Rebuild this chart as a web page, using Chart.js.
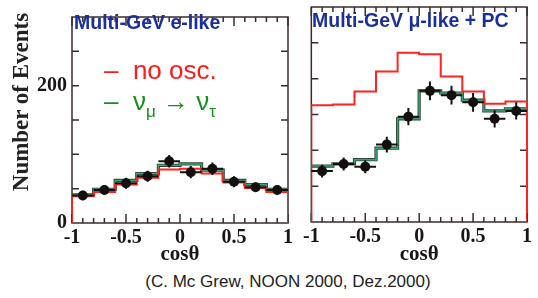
<!DOCTYPE html>
<html>
<head>
<meta charset="utf-8">
<script src="https://cdn.jsdelivr.net/npm/chart.js@4.4.0/dist/chart.umd.min.js"></script>
<style>
  body { margin: 0; background: #fff; }
  #wrap { position: relative; width: 538px; height: 298px; overflow: hidden; }
  canvas { position: absolute; top: 0; }
  .lbl { position: absolute; white-space: nowrap; }
  .panelTitle { font: bold 19.5px "Liberation Sans", Arial, sans-serif; color: #1b2f9c; line-height: 20px; }
  .leg { font: 26px "Liberation Sans", Arial, sans-serif; line-height: 26px; }
  .leg sub { font-size: 17px; vertical-align: -7px; }
</style>
</head>
<body>
<div id="wrap">
  <canvas id="eLike" width="300" height="270" style="left:0"></canvas>
  <canvas id="muLike" width="238" height="270" style="left:300px"></canvas>

  <div class="lbl panelTitle" style="left:74px; top:12px">Multi-GeV e-like</div>
  <div class="lbl panelTitle" style="left:312px; top:10px">Multi-GeV μ-like + PC</div>

  <div class="lbl leg" style="left:104px; top:57px; color:#ff1a1a">–&nbsp;&nbsp;no osc.</div>
  <div class="lbl leg" style="left:104px; top:88px; color:#14901e">–&nbsp;&nbsp;ν<sub>μ</sub> → ν<sub>τ</sub></div>

  <div class="lbl" style="left:-77px; top:87px; width:200px; height:30px; line-height:30px; text-align:center;
       transform: rotate(-90deg); font: bold 23px 'Liberation Serif', 'Times New Roman', serif; color:#222">Number of Events</div>

  <div class="lbl" style="left:0; width:576px; top:272px; text-align:center; font: 17px 'Liberation Sans', Arial, sans-serif; color:#222">(C. Mc Grew, NOON 2000, Dez.2000)</div>
</div>

<script>
// bin centres in cos(theta), 10 bins of width 0.2
const cosBins = [-0.9, -0.7, -0.5, -0.3, -0.1, 0.1, 0.3, 0.5, 0.7, 0.9];
const binWidth = 0.2;

// Multi-GeV e-like
const eNoOsc = [39, 45, 56, 66, 78, 79, 72, 59, 51, 45];
const eOsc   = [41, 49, 62, 72, 84, 86, 77, 62, 56, 49];
const eData  = [40, 48, 58, 68, 90, 74, 79, 60, 52, 48];
const eErr   = [7, 7, 8, 8, 9, 9, 9, 8, 7, 7];

// Multi-GeV mu-like + PC
const muNoOsc = [163, 164, 182, 210, 236, 234, 203, 182, 165, 168];
const muOsc   = [78, 81, 87, 103, 144, 183, 180, 170, 155, 158];
const muData  = [71, 81, 77, 108, 147, 183, 177, 167, 144, 155];
const muErr   = [9, 9, 9, 11, 12, 13, 13, 13, 12, 12];

const xTicks = [-1, -0.5, 0, 0.5, 1];
const yLabelTicks = [0, 200];

const serif = "'Liberation Serif', 'Times New Roman', serif";

function histPoints(values, closed) {
  const half = binWidth / 2;
  const last = cosBins.length - 1;
  const pts = [];
  if (closed) pts.push({x: cosBins[0] - half, y: 0});
  values.forEach((v, i) => pts.push({x: cosBins[i] - half, y: v}));
  pts.push({x: cosBins[last] + half, y: values[last]});
  if (closed) pts.push({x: cosBins[last] + half, y: 0});
  return pts;
}

// box + inward tick marks on all four sides
const framePlugin = {
  id: 'frame',
  beforeDatasetsDraw(chart) {
    const {ctx, chartArea: a, scales: {x, y}} = chart;
    ctx.save();
    ctx.strokeStyle = '#3a2c2c';
    ctx.lineWidth = 1.5;
    ctx.strokeRect(a.left, a.top, a.right - a.left, a.bottom - a.top);
    ctx.beginPath();
    for (let i = -10; i <= 10; i++) {
      const px = x.getPixelForValue(i / 10);
      const len = i % 5 === 0 ? 9 : 5;
      ctx.moveTo(px, a.bottom); ctx.lineTo(px, a.bottom - len);
      ctx.moveTo(px, a.top); ctx.lineTo(px, a.top + len);
    }
    for (let v = 50; v < 300; v += 50) {
      const py = y.getPixelForValue(v);
      ctx.moveTo(a.left, py); ctx.lineTo(a.left + 7, py);
      ctx.moveTo(a.right, py); ctx.lineTo(a.right - 7, py);
    }
    ctx.stroke();
    ctx.restore();
  }
};

const errorBarPlugin = {
  id: 'errorBars',
  afterDatasetsDraw(chart) {
    const {ctx, scales: {x, y}} = chart;
    chart.data.datasets.forEach(ds => {
      if (!ds.errorBars) return;
      ctx.save();
      ctx.strokeStyle = '#151010';
      ctx.lineWidth = 2;
      ctx.beginPath();
      ds.data.forEach((p, i) => {
        const e = ds.errorBars[i];
        ctx.moveTo(x.getPixelForValue(p.x - binWidth / 2), y.getPixelForValue(p.y));
        ctx.lineTo(x.getPixelForValue(p.x + binWidth / 2), y.getPixelForValue(p.y));
        ctx.moveTo(x.getPixelForValue(p.x), y.getPixelForValue(p.y - e));
        ctx.lineTo(x.getPixelForValue(p.x), y.getPixelForValue(p.y + e));
      });
      ctx.stroke();
      ctx.restore();
    });
  }
};

function makeChart(id, noOsc, osc, data, err, showYLabels, area) {
  return new Chart(document.getElementById(id), {
    type: 'line',
    data: {
      datasets: [
        {
          label: 'data',
          data: cosBins.map((c, i) => ({x: c, y: data[i]})),
          showLine: false,
          pointRadius: 5,
          pointBackgroundColor: '#151010',
          pointBorderWidth: 0,
          errorBars: err,
          order: 0
        },
        {
          label: 'no osc.',
          data: histPoints(noOsc, true),
          stepped: 'before',
          borderColor: '#ff2222',
          borderWidth: 2,
          pointRadius: 0,
          order: 1
        },
        {
          label: 'numu -> nutau',
          data: histPoints(osc, false),
          stepped: 'before',
          borderColor: '#3aa374',
          borderWidth: 1.5,
          pointRadius: 0,
          order: 2
        },
        {
          label: 'numu -> nutau (edge)',
          data: histPoints(osc, false),
          stepped: 'before',
          borderColor: '#2b4536',
          borderWidth: 3.2,
          pointRadius: 0,
          order: 3
        }
      ]
    },
    options: {
      responsive: false,
      animation: false,
      devicePixelRatio: 1,
      layout: { padding: { top: area.top, right: area.right, left: 0, bottom: 0 } },
      plugins: { legend: { display: false }, tooltip: { enabled: false } },
      scales: {
        x: {
          type: 'linear',
          min: -1,
          max: 1,
          afterBuildTicks: s => { s.ticks = xTicks.map(v => ({value: v})); },
          ticks: {
            autoSkip: false,
            maxRotation: 0,
            padding: 3,
            color: '#1a1414',
            font: { family: serif, size: 20, weight: 'bold' },
            callback: v => String(v)
          },
          grid: { display: false, drawTicks: false },
          border: { display: false },
          title: {
            display: true,
            text: 'cosθ',
            color: '#1a1414',
            font: { family: serif, size: 21, weight: 'bold' },
            padding: { top: 0, bottom: 3 }
          },
          afterFit: s => { s.height = area.xh; }
        },
        y: {
          min: 0,
          max: 300,
          afterBuildTicks: s => { s.ticks = yLabelTicks.map(v => ({value: v})); },
          ticks: {
            display: showYLabels,
            padding: 5,
            color: '#1a1414',
            font: { family: serif, size: 20, weight: 'bold' },
            callback: v => String(v)
          },
          grid: { display: false, drawTicks: false },
          border: { display: false },
          afterFit: s => { s.width = area.yw; }
        }
      }
    },
    plugins: [framePlugin, errorBarPlugin]
  });
}

makeChart('eLike', eNoOsc, eOsc, eData, eErr, true, { top: 9, right: 12, yw: 72, xh: 47 });
makeChart('muLike', muNoOsc, muOsc, muData, muErr, false, { top: 7, right: 11, yw: 11, xh: 48 });
</script>
</body>
</html>
